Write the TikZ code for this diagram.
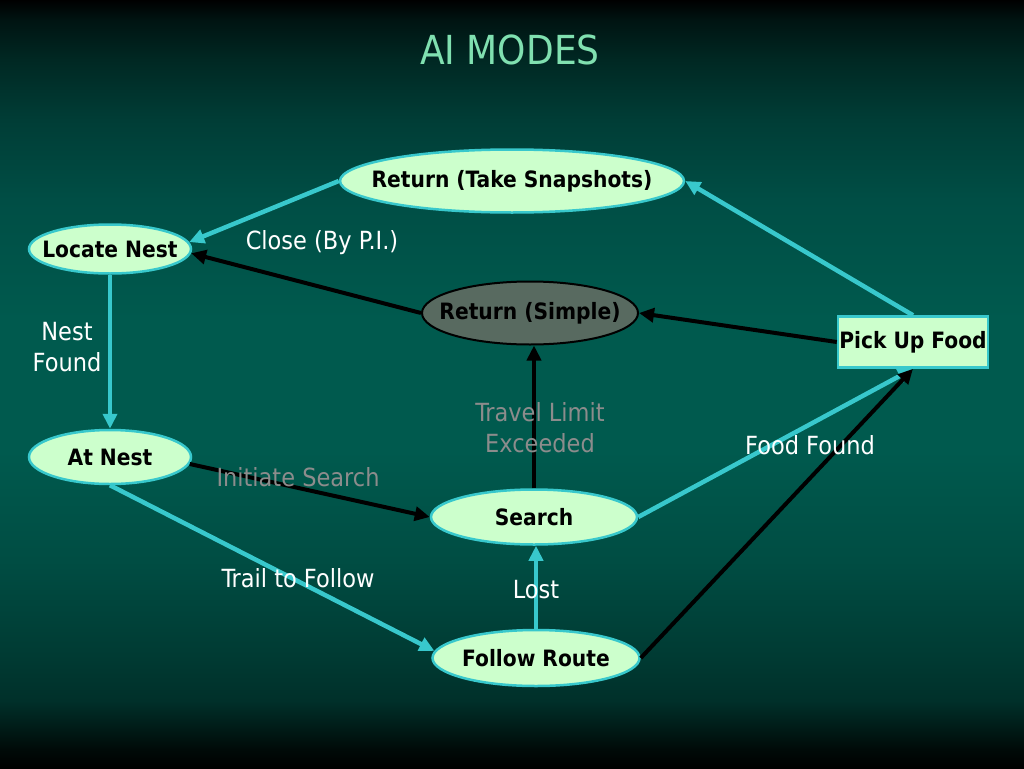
\documentclass[tikz,border=0pt]{standalone}
\usepackage{fontspec}
\setmainfont{DejaVu Sans Condensed}
\usetikzlibrary{shapes.geometric,arrows.meta}
\definecolor{nodefill}{RGB}{204,255,204}
\definecolor{teal1}{RGB}{56,200,204}
\definecolor{grayfill}{RGB}{88,106,96}
\definecolor{labgray}{RGB}{140,140,140}
\definecolor{titlecol}{RGB}{128,224,176}
\pgfdeclareverticalshading{bgshade}{100bp}{
  color(0bp)=(black);
  color(25bp)=(black);
  color(26.2bp)=({rgb,255:red,0;green,10;blue,8});
  color(27.5bp)=({rgb,255:red,0;green,26;blue,22});
  color(29.4bp)=({rgb,255:red,0;green,48;blue,42});
  color(32.7bp)=({rgb,255:red,0;green,60;blue,52});
  color(38.5bp)=({rgb,255:red,0;green,77;blue,67});
  color(45.7bp)=({rgb,255:red,0;green,90;blue,78});
  color(54.2bp)=({rgb,255:red,0;green,90;blue,78});
  color(62bp)=({rgb,255:red,0;green,78;blue,69});
  color(67.2bp)=({rgb,255:red,0;green,61;blue,54});
  color(71.1bp)=({rgb,255:red,0;green,40;blue,35});
  color(73.7bp)=({rgb,255:red,0;green,20;blue,18});
  color(75bp)=(black);
  color(100bp)=(black)}
\newcommand{\zw}[1]{\makebox[0pt]{#1}}
\tikzset{
  ell/.style={ellipse, draw=teal1, line width=2.5pt, fill=nodefill, inner sep=0pt,
     font=\bfseries\fontsize{22.5}{24}\selectfont, text=black},
  boxnode/.style={rectangle, draw=teal1, line width=2.5pt, fill=nodefill, inner sep=0pt,
     font=\bfseries\fontsize{22.5}{24}\selectfont, text=black},
  tealarrow/.style={draw=teal1, line width=4.5pt, -{Triangle[length=15pt,width=14pt]}},
  blackarrow/.style={draw=black, line width=4pt, -{Triangle[length=15pt,width=14pt]}},
  wlab/.style={text=white, font=\fontsize{25}{31}\selectfont, align=center},
  glab/.style={text=labgray, font=\fontsize{25}{31}\selectfont, align=center}
}
\begin{document}
\begin{tikzpicture}[x=1pt,y=-1pt]
\useasboundingbox (0,0) rectangle (1024,768);
\shade[shading=bgshade] (0,0) rectangle (1024,768);
\node[text=titlecol, font=\fontsize{40}{44}\selectfont] (title) at (510,50) {AI MODES};
% nodes
\node[ell, minimum width=344pt, minimum height=63pt] (rts) at (512,181) {\zw{Return (Take Snapshots)}};
\node[ell, minimum width=162pt, minimum height=49pt] (ln) at (110,249) {\zw{Locate Nest}};
\node[ell, draw=black, line width=2pt, fill=grayfill, minimum width=216pt, minimum height=63pt] (rs) at (530,313) {\zw{Return (Simple)}};
\node[boxnode, minimum width=150pt, minimum height=51pt] (pf) at (913,342) {\zw{Pick Up Food}};
\node[ell, minimum width=162pt, minimum height=54pt] (an) at (110,457) {\zw{At Nest}};
\node[ell, minimum width=206pt, minimum height=55pt] (se) at (534,517) {\zw{Search}};
\node[ell, minimum width=207pt, minimum height=56pt] (fr) at (536,658) {\zw{Follow Route}};
% edges
\draw[tealarrow] (rts.west) -- (ln.5);
\draw[blackarrow] (rs.west) -- (ln.-3);
\draw[tealarrow] (pf.north) -- (rts.east);
\draw[blackarrow] (pf.west) -- (rs.east);
\draw[tealarrow] (ln.south) -- (an.north);
\draw[blackarrow] (an.-5) -- (se.west);
\draw[tealarrow] (an.south) -- (fr.176);
\draw[blackarrow] (se.north) -- (se.north |- rs.south);
\draw[tealarrow] (fr.north) -- (fr.north |- se.south);
\draw[tealarrow] (se.east) -- (pf.south);
\draw[blackarrow] (fr.east) -- (pf.south);
% labels
\node[wlab] (l1) at (322,243) {Close (By P.I.)};
\node[wlab] (l2) at (67,347) {Nest\\Found};
\node[glab] (l3) at (540,428) {Travel Limit\\Exceeded};
\node[glab] (l4) at (298,477) {Initiate Search};
\node[wlab] (l5) at (810,445) {Food Found};
\node[wlab] (l6) at (298,578) {Trail to Follow};
\node[wlab] (l7) at (536,590) {Lost};
\end{tikzpicture}
\end{document}
